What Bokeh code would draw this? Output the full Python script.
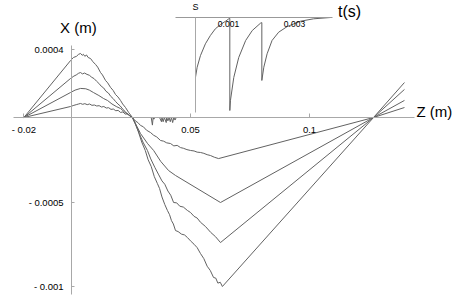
from bokeh.plotting import figure
from bokeh.models import Range1d, LinearAxis, FixedTicker, Label
from bokeh.embed import file_html
from bokeh.resources import INLINE

# ---- data (Z in m, X in units of 1e-4 m) ----
curve1 = [(-0.02, 0), (-0.0004, 3.37), (0.0008, 3.55), (0.0021, 3.62), (0.0029, 3.73), (0.0038, 3.79),
          (0.0045, 3.68), (0.005, 3.74), (0.0056, 3.62), (0.0063, 3.7), (0.007, 3.55), (0.008, 3.49),
          (0.009, 3.3), (0.0101, 3.14), (0.011, 2.98), (0.0122, 2.66), (0.013, 2.52), (0.0143, 2.19),
          (0.0152, 2.05), (0.0164, 1.78), (0.0175, 1.6), (0.0185, 1.36), (0.0195, 1.22), (0.0206, 1.01),
          (0.0215, 0.8), (0.0227, 0.59), (0.024, 0.3), (0.0256, 0), (0.0268, -0.35), (0.028, -0.8),
          (0.0295, -1.45), (0.031, -1.95), (0.0322, -2.5), (0.0335, -2.9), (0.0348, -3.5), (0.0361, -3.91),
          (0.037, -4.2), (0.038, -4.7), (0.0392, -5.15), (0.0403, -5.5), (0.0412, -5.75), (0.042, -6.1),
          (0.0428, -6.3), (0.0437, -6.69), (0.0448, -6.75), (0.0462, -6.9), (0.0475, -6.95), (0.0487, -7.1),
          (0.05, -7.3), (0.0515, -7.5), (0.0528, -7.7), (0.0542, -8.05), (0.0556, -8.35), (0.057, -8.8),
          (0.0583, -9.05), (0.0597, -9.47), (0.0606, -9.5), (0.0615, -9.8), (0.0625, -9.75), (0.0634, -10.0),
          (0.1269, 0), (0.1399, 2.07)]
curve2 = [(-0.02, 0), (-0.0004, 2.31), (0.001, 2.45), (0.002, 2.52), (0.003, 2.62), (0.0038, 2.66),
          (0.0046, 2.58), (0.0055, 2.63), (0.0065, 2.55), (0.0075, 2.5), (0.0085, 2.38), (0.0095, 2.3),
          (0.0105, 2.15), (0.0115, 2.02), (0.0125, 1.85), (0.0135, 1.75), (0.0145, 1.55), (0.0155, 1.45),
          (0.0165, 1.25), (0.0175, 1.12), (0.0185, 0.95), (0.0195, 0.8), (0.0205, 0.68), (0.0215, 0.5),
          (0.0228, 0.32), (0.024, 0.15), (0.0256, 0), (0.027, -0.45), (0.0285, -0.95), (0.03, -1.45),
          (0.0319, -1.95), (0.0333, -2.45), (0.035, -2.95), (0.0365, -3.35), (0.038, -3.75), (0.0392, -3.95),
          (0.0405, -4.35), (0.0417, -4.6), (0.0429, -5.03), (0.0442, -5.05), (0.0455, -5.25), (0.047, -5.3),
          (0.0487, -5.5), (0.05, -5.62), (0.0515, -5.85), (0.0528, -5.95), (0.0542, -6.2), (0.0563, -6.45),
          (0.0585, -6.8), (0.0605, -7.05), (0.0626, -7.4), (0.1269, 0), (0.1399, 1.66)]
curve3 = [(-0.02, 0), (-0.0004, 1.48), (0.0015, 1.62), (0.0038, 1.72), (0.006, 1.7), (0.0075, 1.62),
          (0.0092, 1.48), (0.0115, 1.3), (0.0135, 1.12), (0.0151, 1.01), (0.017, 0.8), (0.0188, 0.65),
          (0.0206, 0.53), (0.0225, 0.3), (0.0256, 0), (0.029, -0.95), (0.032, -1.55), (0.0345, -1.95),
          (0.0375, -2.6), (0.0408, -3.14), (0.0437, -3.43), (0.0626, -5.03), (0.1269, 0), (0.1399, 1.01)]
curve4 = [(-0.02, 0), (-0.0004, 0.65), (0.001, 0.72), (0.002, 0.76), (0.003, 0.8), (0.0038, 0.83),
          (0.0047, 0.78), (0.0056, 0.82), (0.0066, 0.76), (0.0076, 0.8), (0.0086, 0.72), (0.0096, 0.74),
          (0.0106, 0.68), (0.0116, 0.7), (0.0126, 0.62), (0.0136, 0.65), (0.0146, 0.56), (0.0156, 0.58),
          (0.0166, 0.48), (0.0176, 0.5), (0.0186, 0.4), (0.0196, 0.42), (0.0206, 0.3), (0.0216, 0.33),
          (0.0226, 0.2), (0.0236, 0.22), (0.0246, 0.08), (0.0256, 0), (0.0268, -0.2), (0.0279, -0.3),
          (0.029, -0.47), (0.0302, -0.55), (0.0315, -0.75), (0.0332, -0.89), (0.0345, -1.05), (0.0358, -1.15),
          (0.0374, -1.36), (0.0387, -1.4), (0.04, -1.5), (0.0416, -1.54), (0.043, -1.68), (0.0444, -1.65),
          (0.0458, -1.78), (0.047, -1.82), (0.0485, -1.9), (0.05, -1.95), (0.0515, -1.98), (0.0528, -2.05),
          (0.0542, -2.07), (0.0556, -2.12), (0.057, -2.2), (0.0584, -2.25), (0.06, -2.35), (0.0618, -2.43),
          (0.1269, 0), (0.1399, 0.59)]
axis_noise = [(0.0335, 0), (0.034, -0.45), (0.0343, 0), (0.0346, -0.1), (0.035, 0), (0.037, 0),
              (0.0378, -0.25), (0.038, 0), (0.0385, -0.25), (0.039, 0), (0.0398, -0.3), (0.04, 0),
              (0.0405, -0.2), (0.041, 0), (0.0415, -0.25), (0.042, 0), (0.0425, -0.3), (0.043, 0),
              (0.0435, -0.15), (0.044, 0)]

# inset: signal S versus t (s)
inset_signal = [(0, -0.642), (0.00005, -0.535), (0.00015, -0.41), (0.0003, -0.283), (0.00045, -0.194),
                (0.0006, -0.122), (0.00076, -0.075), (0.00091, -0.04), (0.00101, -0.014), (0.00104, -0.01),
                (0.00104, -1.0), (0.00106, -0.89), (0.00116, -0.645), (0.00131, -0.43), (0.00152, -0.247),
                (0.00172, -0.14), (0.00197, -0.061), (0.00201, -0.055), (0.00201, -0.677), (0.00207, -0.535),
                (0.00217, -0.39), (0.00232, -0.247), (0.00252, -0.158), (0.00278, -0.097), (0.00318, -0.04),
                (0.00358, -0.014), (0.00409, 0)]

z_ticks = [-0.02, 0.05, 0.1]
z_tick_labels = ["- 0.02", "0.05", "0.1"]
x_ticks = [0.0004, -0.0005, -0.001]
x_tick_labels = ["0.0004", "- 0.0005", "- 0.001"]
t_ticks = [0.001, 0.003]
t_tick_labels = ["0.001", "0.003"]

FONT = "Liberation Sans"
AX = "#a8a8a8"
LINE = "#626262"

p = figure(width=464, height=296,
           x_range=Range1d(-0.029832, 0.165126), y_range=Range1d(-0.00105917, 0.00069231),
           x_axis_type=None, y_axis_type=None, output_backend="svg", toolbar_location=None,
           min_border=0, outline_line_color=None, background_fill_color="white")
p.extra_x_ranges["t"] = Range1d(-0.0059091, 0.0081515)
p.extra_y_ranges["s"] = Range1d(-3.0, 0.18280)


def style(ax, size):
    ax.axis_line_color = AX
    ax.major_tick_line_color = AX
    ax.minor_tick_in = 0
    ax.minor_tick_out = 0
    ax.major_label_text_font = FONT
    ax.major_label_text_font_size = size
    ax.major_label_text_color = "black"


xa = LinearAxis(fixed_location=0, bounds=(-0.0244, 0.1441), ticker=FixedTicker(ticks=z_ticks),
                major_label_overrides=dict(zip(z_ticks, z_tick_labels)),
                major_tick_in=4, major_tick_out=0, major_label_standoff=6)
style(xa, "9.5px")
p.add_layout(xa, "below")

ya = LinearAxis(fixed_location=0, bounds=(-0.00105, 0.000426), ticker=FixedTicker(ticks=x_ticks),
                major_label_overrides=dict(zip(x_ticks, x_tick_labels)),
                major_tick_in=3, major_tick_out=0, major_label_standoff=8)
style(ya, "9.5px")
p.add_layout(ya, "left")

ta = LinearAxis(x_range_name="t", y_range_name="s", fixed_location=0, bounds=(-0.0006, 0.00415),
                ticker=FixedTicker(ticks=t_ticks), major_label_overrides=dict(zip(t_ticks, t_tick_labels)),
                major_tick_in=0, major_tick_out=0, major_label_standoff=3)
style(ta, "8.5px")
ta.axis_line_color = "#999999"
p.add_layout(ta, "below")

sa = LinearAxis(x_range_name="t", y_range_name="s", fixed_location=0, bounds=(-1.02, 0),
                ticker=FixedTicker(ticks=[]), major_tick_in=0, major_tick_out=0)
style(sa, "0px")
p.add_layout(sa, "left")

for c in (curve1, curve2, curve3, curve4, axis_noise):
    zs, xs = zip(*c)
    p.line(list(zs), [v * 1e-4 for v in xs], line_color=LINE, line_width=1)

ts, ss = zip(*inset_signal)
p.line(list(ts), list(ss), x_range_name="t", y_range_name="s", line_color=LINE, line_width=1)

p.add_layout(Label(x=0.0029, y=0.000533, text="X (m)", text_align="center", text_baseline="middle",
                   text_font=FONT, text_font_size="15px", text_color="black"))
p.add_layout(Label(x=0.1525, y=0.0000355, text="Z (m)", text_align="center", text_baseline="middle",
                   text_font=FONT, text_font_size="15px", text_color="black"))
p.add_layout(Label(x=0.00467, y=0.0645, x_range_name="t", y_range_name="s", text="t(s)",
                   text_align="center", text_baseline="middle",
                   text_font=FONT, text_font_size="16px", text_color="black"))
p.add_layout(Label(x=0.0, y=0.118, x_range_name="t", y_range_name="s", text="S",
                   text_align="center", text_baseline="middle",
                   text_font=FONT, text_font_size="9px", text_color="black"))

open("out.html", "w").write(file_html(p, INLINE))
